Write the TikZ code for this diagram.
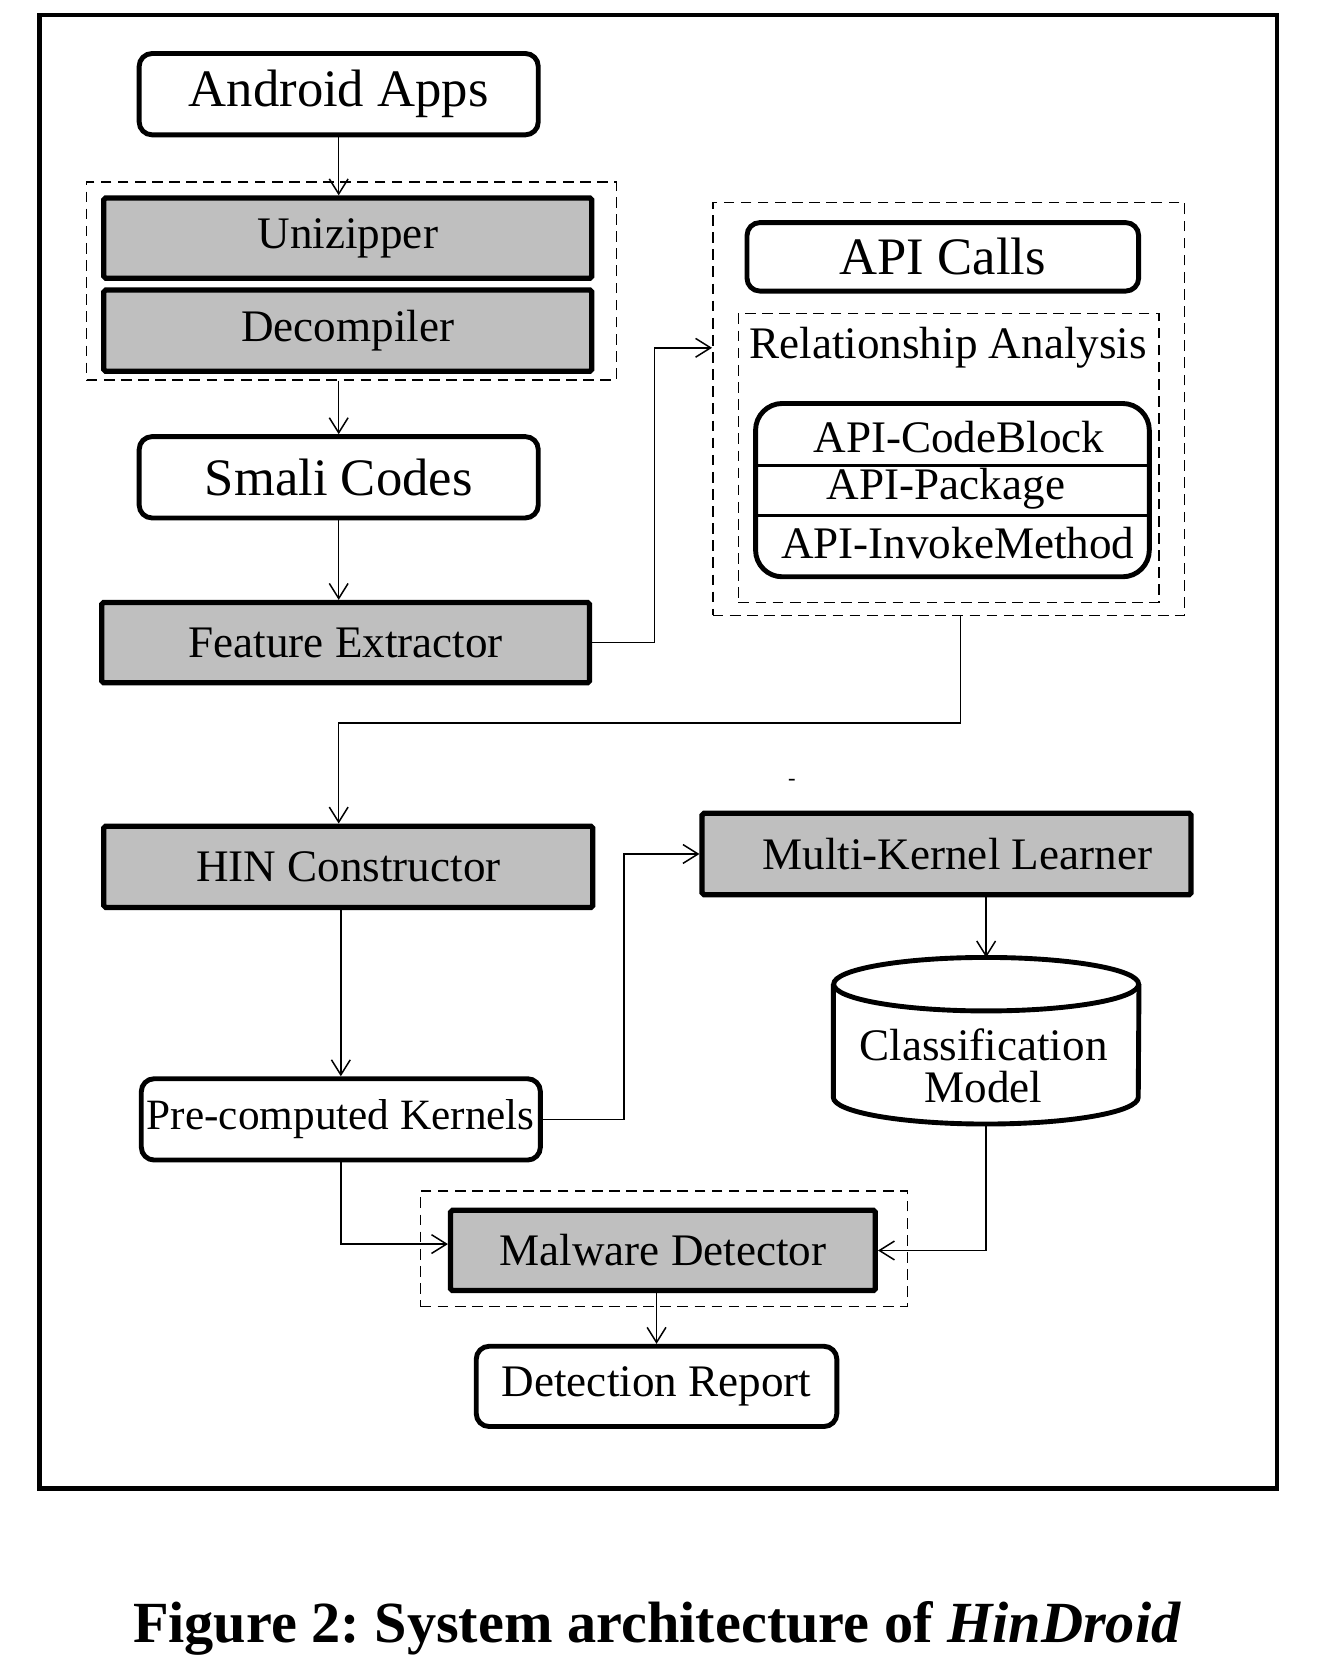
\documentclass[tikz,border=0pt]{standalone}
\usepackage{fontspec}
\setmainfont{Liberation Serif}
\usepackage{tikz}
\usetikzlibrary{arrows.meta,calc,positioning}

\tikzset{
  softbox/.style={draw, line width=2.6pt, rounded corners=0.24cm, fill=white, inner sep=0pt},
  hardbox/.style={draw, line width=2.8pt, rounded corners=1pt, fill=gray!50, inner sep=0pt,
                  font=\fontsize{24}{26}\selectfont},
  groupbox/.style={draw, line width=0.8pt, dash pattern=on 0.2cm off 0.12cm, inner sep=0pt},
  flow/.style={-{Straight Barb[length=8pt,width=10pt]}, line width=0.8pt},
  big/.style={font=\fontsize{28}{30}\selectfont},
  mid/.style={font=\fontsize{24}{26}\selectfont},
}

\begin{document}
\begin{tikzpicture}[x=0.02cm,y=-0.02cm]
\useasboundingbox (0,0) rectangle (1239,1568);
\draw[line width=2.3pt] (37,14) rectangle (1193,1391);

% left column
\node[softbox,big,minimum width=7.46cm,minimum height=1.52cm] (apps) at (316.5,88) {Android Apps};
\node[groupbox,minimum width=9.9cm,minimum height=3.7cm] (grpA) at (328.5,262.5) {};
\node[hardbox,minimum width=9.12cm,minimum height=1.5cm] (unzip) at (325,222.5) {Unizipper};
\node[hardbox,minimum width=9.12cm,minimum height=1.52cm] (decomp) at (325,309) {Decompiler};
\node[softbox,big,minimum width=7.46cm,minimum height=1.52cm] (smali) at (316.5,446) {Smali Codes};
\node[hardbox,minimum width=9.12cm,minimum height=1.5cm] (feat) at (323,600.5) {Feature Extractor};

% api block
\node[groupbox,minimum width=8.82cm,minimum height=7.72cm] (grpB) at (886.5,382) {};
\node[softbox,big,minimum width=7.32cm,minimum height=1.28cm] (calls) at (881,240) {API Calls};
\node[groupbox,minimum width=7.86cm,minimum height=5.4cm] (grpC) at (886.5,428) {};
\node[mid] (rel) at (886,325) {Relationship Analysis};
\node[draw,line width=2.6pt,rounded corners=0.5cm,minimum width=7.36cm,minimum height=3.24cm] (tbl) at (890,458) {};
\draw[line width=1.6pt] (tbl.west |- 0,435) -- (tbl.east |- 0,435);
\draw[line width=1.6pt] (tbl.west |- 0,482) -- (tbl.east |- 0,482);
\node[mid] (cb) at (896,408) {API-CodeBlock};
\node[mid] (pkg) at (884,457) {API-Package};
\node[mid] (inv) at (895,507) {API-InvokeMethod};

\node[font=\fontsize{12}{12}\selectfont] (dash) at (740,731) {-};

% lower part
\node[hardbox,minimum width=9.14cm,minimum height=1.52cm] (hin) at (325.5,810) {HIN Constructor};
\node[hardbox,minimum width=9.14cm,minimum height=1.52cm] (mkl) at (884.5,798) {\hspace{0.4cm}Multi-Kernel Learner};
\node[minimum width=5.7cm,minimum height=3.1cm,inner sep=0pt] (model) at (921.5,972.5) {};
\draw[line width=2.6pt] ($(model.north)+(0,25)$) ellipse[x radius=2.85cm,y radius=0.5cm];
\draw[line width=2.6pt] ($(model.north west)+(0,25)$) -- ($(model.south west)+(0,-25)$)
  arc[start angle=180,end angle=360,x radius=2.85cm,y radius=0.5cm] -- ($(model.north east)+(0,25)$);
\node[mid,align=center,inner sep=0pt] (modeltxt) at (919,996) {Classification\\[-4pt]Model};
\node[softbox,minimum width=7.46cm,minimum height=1.52cm,font=\fontsize{23}{25}\selectfont] (pre) at (318.5,1046) {Pre-computed Kernels};
\node[groupbox,minimum width=9.1cm,minimum height=2.16cm] (grpD) at (620.5,1167) {};
\node[hardbox,minimum width=7.94cm,minimum height=1.5cm] (mal) at (619.5,1168.5) {Malware Detector};
\node[softbox,mid,minimum width=6.74cm,minimum height=1.5cm] (rep) at (613.5,1295.5) {Detection Report};

\node[font=\fontsize{31}{33}\selectfont] (caption) at (614,1522) {\frenchspacing\textbf{Figure 2: System architecture of \textit{HinDroid}}};

% connectors
\draw[flow] (apps.south) -- (apps.south |- unzip.north);
\draw[flow] (smali.north |- grpA.south) -- (smali.north);
\draw[flow] (smali.south) -- (feat.north -| smali.south);
\draw[flow] (feat.east) -- ++(58,0) |- (grpB.west |- rel);
\draw[flow] ($(grpB.south)+(11,0)$) -- ++(0,100) -| (hin.north -| smali.south);
\draw[flow] (hin.south -| pre.north) -- (pre.north);
\draw[flow] (pre.east) -- ++(76,0) |- (mkl.west);
\draw[flow] (mkl.south -| model.north) -- (model.north);
\draw[flow] (model.south) |- (mal.east);
\draw[flow] (pre.south) |- ($(mal.west)+(0,-6)$);
\draw[flow] (mal.south -| rep.north) -- (rep.north);
\end{tikzpicture}
\end{document}
